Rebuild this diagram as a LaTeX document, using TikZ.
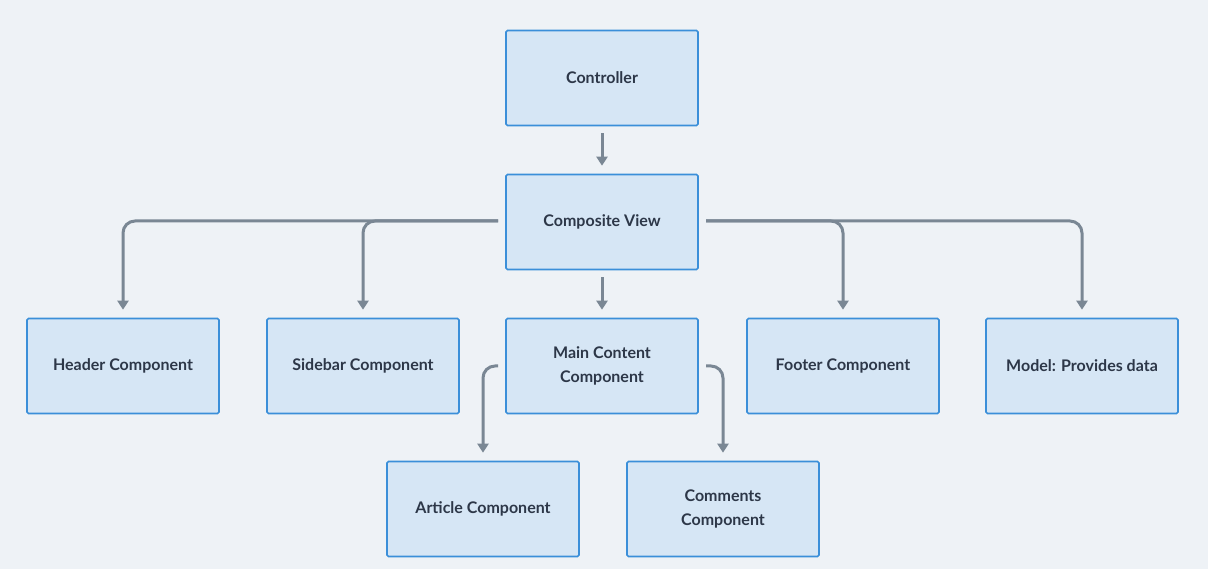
\documentclass[tikz,border=0pt]{standalone}
\usepackage{fontspec}
\setmainfont{Lato}
\usetikzlibrary{arrows.meta}
\definecolor{bg}{HTML}{EEF2F6}
\definecolor{boxfill}{HTML}{D6E6F5}
\definecolor{boxline}{HTML}{3B8FD9}
\definecolor{arr}{HTML}{7A8794}
\definecolor{txt}{HTML}{2D3748}
\begin{document}
\begin{tikzpicture}[x=1pt,y=-1pt,
  box/.style={draw=boxline,fill=boxfill,line width=1.6pt,rounded corners=1.5pt,minimum width=192pt,minimum height=95pt,align=center,text=txt,font=\fontsize{16}{24}\selectfont\bfseries},
  con/.style={draw=arr,line width=3pt,rounded corners=12pt,-{Triangle[length=9pt,width=11pt]}}]
\fill[bg] (0,0) rectangle (1208,569);
\useasboundingbox (0,0) rectangle (1208,569);
\node[box] (ctrl) at (602,78) {Controller};
\node[box] (comp) at (602,222) {Composite View};
\node[box] (head) at (123,366) {Header Component};
\node[box] (side) at (363,366) {Sidebar Component};
\node[box] (main) at (602,366) {Main Content\\Component};
\node[box] (foot) at (843,366) {Footer Component};
\node[box] (model) at (1082,366) {Model: Provides data};
\node[box] (art) at (483,509) {Article Component};
\node[box] (comm) at (723,509) {Comments\\Component};
\coordinate (cl) at (498,221);
\coordinate (cr) at (706,221);
\coordinate (ml) at (498,366);
\coordinate (mr) at (706,366);
\draw[con] ([yshift=-7pt]ctrl.south) -- ([yshift=8pt]comp.north);
\draw[con] ([yshift=-7pt]comp.south) -- ([yshift=8pt]main.north);
\draw[con] (cl) -| ([yshift=8pt]head.north);
\draw[con] (cl) -| ([yshift=8pt]side.north);
\draw[con] (cr) -| ([yshift=8pt]foot.north);
\draw[con] (cr) -| ([yshift=8pt]model.north);
\draw[con] (ml) -| ([yshift=8pt]art.north);
\draw[con] (mr) -| ([yshift=8pt]comm.north);
\end{tikzpicture}
\end{document}
